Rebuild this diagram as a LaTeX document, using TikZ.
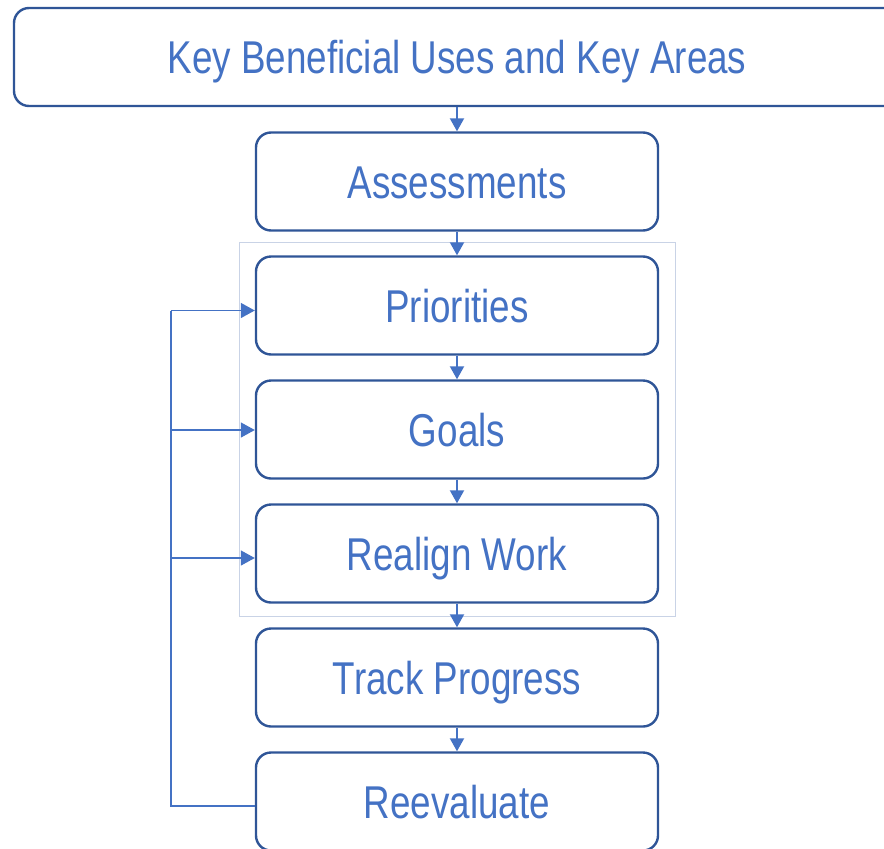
\documentclass[tikz,border=0pt]{standalone}
\usepackage{fontspec}
\setmainfont{Liberation Sans}[FakeStretch=0.8]
\usetikzlibrary{arrows.meta,calc}
\definecolor{boxline}{HTML}{2F5597}
\definecolor{txtblue}{HTML}{4472C4}
\definecolor{framegray}{HTML}{C9D3E6}
\tikzset{
  stepbox/.style={draw=boxline, line width=2.4pt, rounded corners=15pt, fill=white,
    minimum width=402pt, minimum height=98pt, inner sep=0pt, text=txtblue,
    text height=33pt, text depth=0pt,
    font=\fontsize{46}{52}\selectfont},
  flow/.style={draw=txtblue, line width=2pt, -{Triangle[length=13pt,width=14pt]}},
  fb/.style={draw=txtblue, line width=1.4pt},
  fbarrow/.style={fb, -{Triangle[length=14pt,width=15pt]}}
}
\begin{document}
\begin{tikzpicture}[x=1pt,y=-1pt]
\useasboundingbox (0,0) rectangle (884,849);
\begin{scope}
\clip (0,0) rectangle (884,849);
\draw[framegray, line width=1pt] (239,242) rectangle (675,616);
\node[stepbox, minimum width=886pt] (top) at (457,57) {Key Beneficial Uses and Key Areas};
\node[stepbox] (ass) at (457,181.5) {Assessments};
\node[stepbox] (pri) at (457,305.5) {Priorities};
\node[stepbox] (goa) at (457,429.5) {Goals};
\node[stepbox] (rea) at (457,553.5) {Realign Work};
\node[stepbox] (tra) at (457,677.5) {Track Progress};
\node[stepbox] (ree) at (457,801.5) {Reevaluate};
\draw[flow] (top) -- (ass);
\draw[flow] (ass) -- (pri);
\draw[flow] (pri) -- (goa);
\draw[flow] (goa) -- (rea);
\draw[flow] (rea) -- (tra);
\draw[flow] (tra) -- (ree);
\coordinate (fbbot) at (171,806);
\coordinate (fbtop) at (171,310.5);
\draw[fb] ([yshift=-4.5pt]ree.west) -- (fbbot) -- (fbtop);
\draw[fbarrow] (fbtop) -- ([yshift=-5pt]pri.west);
\draw[fbarrow] (171,430) -- ([yshift=-0.5pt]goa.west);
\draw[fbarrow] (171,558) -- ([yshift=-4.5pt]rea.west);
\end{scope}
\end{tikzpicture}
\end{document}
